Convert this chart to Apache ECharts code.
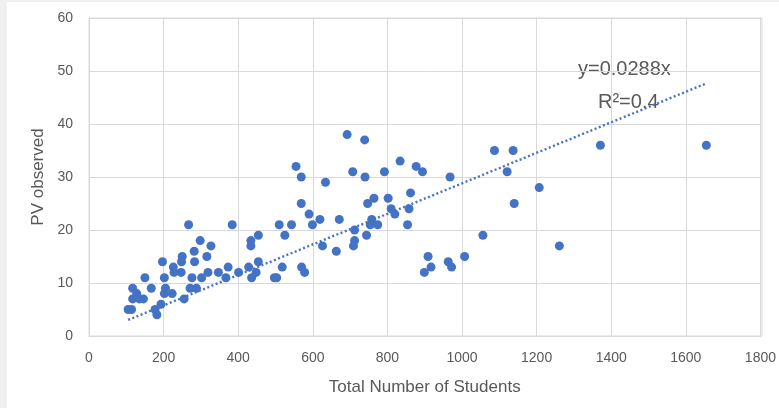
<!DOCTYPE html>
<html>
<head>
<meta charset="utf-8">
<script src="https://cdn.jsdelivr.net/npm/echarts@6/dist/echarts.min.js"></script>
<style>
  html,body{margin:0;padding:0;background:#fff;}
  #wrap{position:relative;width:779px;height:408px;background:#f0f0f0;overflow:hidden;}
  #main{position:absolute;left:7px;top:2px;width:772px;height:406px;background:#fff;}
</style>
</head>
<body>
<div id="wrap"><div id="main"></div></div>
<script>
// data: [students, pv observed]
var students = [1655,1371,1207,1261,1087,1137,1121,1140,1056,1007,968,963,972,909,899,917,877,894,834,792,
  862,858,802,810,820,854,764,747,758,754,774,744,692,739,707,740,712,712,709,671,
  663,634,619,626,599,590,555,569,569,543,510,525,518,570,578,497,503,454,454,448,
  434,434,428,436,401,384,373,367,347,327,298,316,319,302,282,283,267,276,271,288,
  250,248,247,226,228,255,223,197,202,205,202,193,182,177,167,150,117,128,117,146,
  135,105,114];
var pvObserved = [36,36,28,17,35,35,31,25,19,15,30,14,13,15,12,13,32,31,33,31,
  27,24,26,24,23,21,26,25,22,21,21,19,38,37,31,30,20,18,17,22,
  16,29,22,17,21,23,32,30,25,21,21,19,13,13,12,11,11,19,14,12,
  18,17,13,11,12,21,13,11,12,17,18,15,12,11,16,14,21,11,9,9,
  15,14,12,13,12,7,8,14,11,9,8,6,4,5,9,11,9,8,7,7,
  7,5,5];
var slope = 0.0288;
var eqText = 'y=0.0288x';
var r2Text = 'R\u00b2=0.4';
var xTicks = [0,200,400,600,800,1000,1200,1400,1600,1800];
var yTicks = [0,10,20,30,40,50,60];

var points = [];
for (var i = 0; i < students.length; i++) {
    points.push([students[i], pvObserved[i]]);
}
var xMin = Math.min.apply(null, students);
var xMax = Math.max.apply(null, students);
var trend = [[xMin, slope * xMin], [xMax, slope * xMax]];

var grey = '#595959';
var myChart = echarts.init(document.getElementById('main'));
var option = {
    animation: false,
    grid: {left: 82, right: 17, top: 16, bottom: 72, containLabel: false},
    xAxis: {
        type: 'value',
        min: xTicks[0], max: xTicks[xTicks.length - 1], interval: 200,
        name: 'Total Number of Students',
        nameLocation: 'middle', nameGap: 43,
        nameTextStyle: {color: grey, fontSize: 17, fontFamily: 'Liberation Sans'},
        axisLine: {show: true, lineStyle: {color: '#d9d9d9'}},
        axisTick: {show: false},
        axisLabel: {color: grey, fontSize: 14, fontFamily: 'Liberation Sans', margin: 15,
            formatter: function (v) { return String(v); }},
        splitLine: {show: true, lineStyle: {color: '#d9d9d9', width: 1}}
    },
    yAxis: {
        type: 'value',
        min: yTicks[0], max: yTicks[yTicks.length - 1], interval: 10,
        name: 'PV observed',
        nameLocation: 'middle', nameGap: 42, nameRotate: 90,
        nameTextStyle: {color: grey, fontSize: 17, fontFamily: 'Liberation Sans'},
        axisLine: {show: true, lineStyle: {color: '#d9d9d9'}},
        axisTick: {show: false},
        axisLabel: {color: grey, fontSize: 14, fontFamily: 'Liberation Sans', margin: 16,
            formatter: function (v) { return String(v); }},
        splitLine: {show: true, lineStyle: {color: '#d9d9d9', width: 1}}
    },
    graphic: [{
        type: 'rect', shape: {x: 82, y: 16, width: 673, height: 318},
        style: {fill: 'none', stroke: '#d9d9d9', lineWidth: 1}, silent: true
    }, {
        type: 'text', left: 571, top: 57,
        style: {text: eqText, fill: grey, fontSize: 20, fontFamily: 'Liberation Sans'}
    }, {
        type: 'text', left: 591, top: 90,
        style: {text: r2Text, fill: grey, fontSize: 20, fontFamily: 'Liberation Sans'}
    }],
    series: [{
        name: 'PV',
        type: 'scatter',
        data: points,
        symbolSize: 9,
        itemStyle: {color: '#4472c4', opacity: 1}
    }, {
        name: 'trend',
        type: 'line',
        data: trend,
        symbol: 'none',
        lineStyle: {color: '#4472c4', width: 2.4, type: [2, 2.5]},
        z: 3
    }]
};
myChart.setOption(option);
</script>
</body>
</html>
